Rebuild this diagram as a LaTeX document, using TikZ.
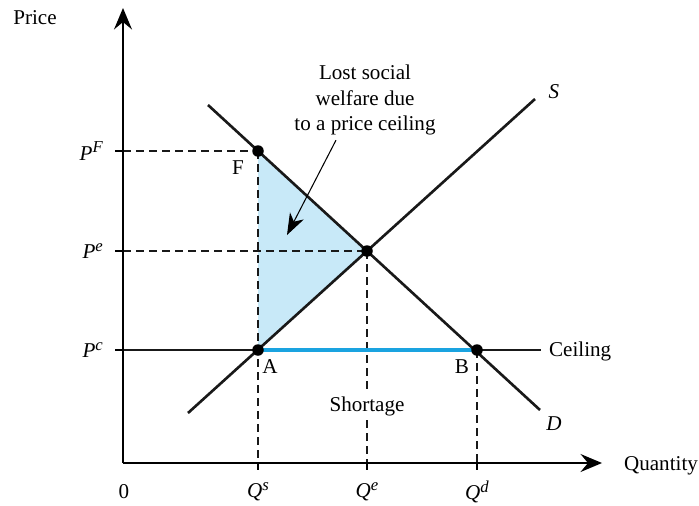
\documentclass[tikz,border=0pt]{standalone}
\usepackage{fontspec}
\setmainfont{Liberation Serif}
\usepackage{xcolor}
\usetikzlibrary{arrows.meta}
\definecolor{lossfill}{HTML}{C8E9F8}
\definecolor{shortline}{HTML}{1AA3E0}
\newcommand{\pq}[2]{\textit{#1}\raisebox{0.75ex}{\fontsize{9.5}{10}\selectfont\textit{#2}}}

\begin{document}
\begin{tikzpicture}[x=0.02cm, y=0.02cm,
  font=\fontsize{12}{14.5}\selectfont,
  ax/.style={line width=0.9pt, -{Stealth[length=4.3mm, width=3.6mm, inset=1.5mm]}},
  curve/.style={line width=1.5pt, black!90},
  dsh/.style={line width=1.5pt, dash pattern=on 4.6pt off 2.8pt, black!90},
  tick/.style={line width=0.9pt},
  pt/.style={circle, fill=black, inner sep=0pt, minimum size=0.23cm},
  lab/.style={inner sep=1pt},
  note/.style={align=center, inner sep=1pt}]
\useasboundingbox (-123,-42) rectangle (576,463);
% key points
\coordinate (O) at (0,0);
\coordinate (F) at (135,312);
\coordinate (E) at (244,212);
\coordinate (A) at (135,113);
\coordinate (B) at (354,113);
\coordinate (ytop) at (0,455);
\coordinate (xend) at (479,0);
\coordinate (s0) at (65,50);   \coordinate (s1) at (412,364);
\coordinate (d0) at (85,358);  \coordinate (d1) at (417,53);
\coordinate (c0) at (0,113);   \coordinate (c1) at (418,113);
% lost welfare triangle
\fill[lossfill] (F) -- (E) -- (A) -- cycle;
% dashed guides
\draw[dsh] (O |- F) -- (F);
\draw[dsh] (O |- E) -- (E);
\draw[dsh] (F) -- (F |- O);
\draw[dsh] (E) -- (E |- O);
\draw[dsh] (B) -- (B |- O);
% ceiling and shortage
\draw[curve] (c0) -- (c1);
\draw[line width=1.8pt, shortline] (A) -- (B);
% supply and demand
\draw[curve] (s0) -- (s1);
\draw[curve] (d0) -- (d1);
% axes
\draw[ax] (O) -- (ytop);
\draw[ax] (O) -- (xend);
\foreach \p in {F, E, A} \draw[tick] (O |- \p) -- ++(-8,0);
\foreach \p in {F, E, B} \draw[tick] (\p |- O) -- ++(0,-7);
\foreach \p in {F, E, A, B} \node[pt] at (\p) {};
% labels
\node[lab] (price) at (-88,445) {Price};
\node[lab, anchor=west] (qty) at (499,-3) {Quantity};
\node[lab] (zero) at (1,-29) {0};
\node[lab, anchor=east] (pf) at (-18,312) {\pq{P}{F}};
\node[lab, anchor=east] (pe) at (-18,212) {\pq{P}{e}};
\node[lab, anchor=east] (pc) at (-18,113) {\pq{P}{c}};
\node[lab] (qs) at (135,-29) {\pq{Q}{s}};
\node[lab] (qe) at (244,-29) {\pq{Q}{e}};
\node[lab] (qd) at (354,-29) {\pq{Q}{d}};
\node[lab] (fl) at (115,295) {F};
\node[lab] (al) at (147,96) {A};
\node[lab] (bl) at (339,96) {B};
\node[lab] (sl) at (431,371) {\textit{S}};
\node[lab] (dl) at (431,39) {\textit{D}};
\node[lab, anchor=west] (cl) at (424,112) {Ceiling};
\node[lab, fill=white, inner sep=2pt] (short) at (244,57) {Shortage};
\node[note] (lost) at (242,363) {Lost social\\welfare due\\to a price ceiling};
\coordinate (tip) at (164,228);
\draw[line width=0.6pt, -{Stealth[length=4.3mm, width=3.1mm, inset=1.3mm]}] (lost.south) ++(-29,-3) -- (tip);
\end{tikzpicture}
\end{document}
